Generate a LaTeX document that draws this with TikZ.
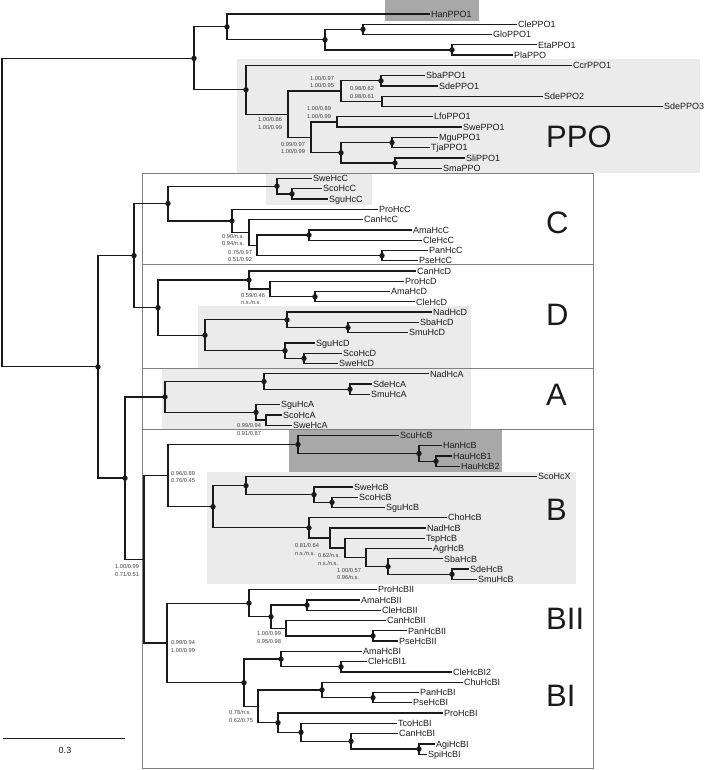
\documentclass[tikz,border=0pt]{standalone}
\usepackage{fontspec}
\setmainfont{Liberation Sans}
\usetikzlibrary{calc}
\definecolor{lgray}{HTML}{EBEBEB}
\definecolor{dgray}{HTML}{A8A8A8}
\definecolor{boxc}{HTML}{808080}
\definecolor{treec}{HTML}{1A1A1A}
\tikzset{
 br/.style={draw=treec, line width=1.3pt},
 leaflab/.style={anchor=west, inner sep=0pt, xshift=1pt, text height=6.4pt, text depth=0pt, font=\fontsize{9}{9}\selectfont, text=treec},
 suplab/.style={anchor=west, inner sep=0pt, align=left, font=\fontsize{5.7}{7.4}\selectfont, text=black!75},
 cladelab/.style={anchor=base west, inner sep=0pt, font=\fontsize{31}{31}\selectfont, text=treec},
 lshade/.style={fill=lgray, draw=none},
 dshade/.style={fill=dgray, draw=none},
 cbox/.style={draw=boxc, line width=0.8pt},
 tdot/.style={fill=treec, draw=none}
}
\newcommand\mkleaf[3]{\coordinate (#1) at (#3,{14+10.28*#2}); \node[leaflab] (t#1) at (#1) {#1};}
\newcommand\mknode[4]{\path ($(#3)!0.5!(#4)$) coordinate (m#1); \coordinate (#1) at (#2,0 |- m#1); \draw[br] (#3) -| (#1) |- (#4);}
\newcommand\mkdot[1]{\fill[tdot] (#1) circle (2.7pt);}
\begin{document}
\begin{tikzpicture}[x=1pt,y=-1pt]
\useasboundingbox (0,0) rectangle (709,770);
% shaded regions
\fill[dshade] (385,0) rectangle (479,21.5);
\fill[lshade] (237,59) rectangle (700,173);
\fill[lshade] (266,173) rectangle (372,205);
\fill[lshade] (198,306) rectangle (471,368);
\fill[lshade] (162,368) rectangle (471,429);
\fill[dshade] (289,429) rectangle (502,472);
\fill[lshade] (207,472) rectangle (576,584);
% clade boxes
\draw[cbox] (142,173) rectangle (593,264);
\draw[cbox] (142,264) rectangle (593,368);
\draw[cbox] (142,368) rectangle (593,429);
\draw[cbox] (142,429) rectangle (593,768);
% leaves
\mkleaf{HanPPO1}{0}{430}
\mkleaf{ClePPO1}{1}{517}
\mkleaf{GloPPO1}{2}{492}
\mkleaf{EtaPPO1}{3}{537}
\mkleaf{PlaPPO}{4}{513}
\mkleaf{CcrPPO1}{5}{572}
\mkleaf{SbaPPO1}{6}{425}
\mkleaf{SdePPO1}{7}{438}
\mkleaf{SdePPO2}{8}{543}
\mkleaf{SdePPO3}{9}{663}
\mkleaf{LfoPPO1}{10}{433}
\mkleaf{SwePPO1}{11}{462}
\mkleaf{MguPPO1}{12}{438}
\mkleaf{TjaPPO1}{13}{430}
\mkleaf{SliPPO1}{14}{465}
\mkleaf{SmaPPO}{15}{442}
\mkleaf{SweHcC}{16}{312}
\mkleaf{ScoHcC}{17}{322}
\mkleaf{SguHcC}{18}{328}
\mkleaf{ProHcC}{19}{378}
\mkleaf{CanHcC}{20}{363}
\mkleaf{AmaHcC}{21}{412}
\mkleaf{CleHcC}{22}{422}
\mkleaf{PanHcC}{23}{428}
\mkleaf{PseHcC}{24}{418}
\mkleaf{CanHcD}{25}{416}
\mkleaf{ProHcD}{26}{404}
\mkleaf{AmaHcD}{27}{390}
\mkleaf{CleHcD}{28}{415}
\mkleaf{NadHcD}{29}{432}
\mkleaf{SbaHcD}{30}{419}
\mkleaf{SmuHcD}{31}{408}
\mkleaf{SguHcD}{32}{315}
\mkleaf{ScoHcD}{33}{342}
\mkleaf{SweHcD}{34}{338}
\mkleaf{NadHcA}{35}{429}
\mkleaf{SdeHcA}{36}{372}
\mkleaf{SmuHcA}{37}{370}
\mkleaf{SguHcA}{38}{280}
\mkleaf{ScoHcA}{39}{282}
\mkleaf{SweHcA}{40}{292}
\mkleaf{ScuHcB}{41}{399}
\mkleaf{HanHcB}{42}{442}
\mkleaf{HauHcB1}{43}{452}
\mkleaf{HauHcB2}{44}{460}
\mkleaf{ScoHcX}{45}{537}
\mkleaf{SweHcB}{46}{353}
\mkleaf{ScoHcB}{47}{358}
\mkleaf{SguHcB}{48}{385}
\mkleaf{ChoHcB}{49}{447}
\mkleaf{NadHcB}{50}{426}
\mkleaf{TspHcB}{51}{425}
\mkleaf{AgrHcB}{52}{432}
\mkleaf{SbaHcB}{53}{443}
\mkleaf{SdeHcB}{54}{469}
\mkleaf{SmuHcB}{55}{477}
\mkleaf{ProHcBII}{56}{377}
\mkleaf{AmaHcBII}{57}{360}
\mkleaf{CleHcBII}{58}{381}
\mkleaf{CanHcBII}{59}{386}
\mkleaf{PanHcBII}{60}{407}
\mkleaf{PseHcBII}{61}{398}
\mkleaf{AmaHcBI}{62}{362}
\mkleaf{CleHcBI1}{63}{367}
\mkleaf{CleHcBI2}{64}{452}
\mkleaf{ChuHcBI}{65}{463}
\mkleaf{PanHcBI}{66}{419}
\mkleaf{PseHcBI}{67}{412}
\mkleaf{ProHcBI}{68}{443}
\mkleaf{TcoHcBI}{69}{397}
\mkleaf{CanHcBI}{70}{398}
\mkleaf{AgiHcBI}{71}{435}
\mkleaf{SpiHcBI}{72}{427}
% PPO part
\mknode{n3}{363}{ClePPO1}{GloPPO1}
\mknode{n4}{452}{EtaPPO1}{PlaPPO}
\mknode{n5}{325}{n3}{n4}
\mknode{n2}{227}{HanPPO1}{n5}
\mknode{nd}{381}{SbaPPO1}{SdePPO1}
\mknode{ne}{382}{SdePPO2}{SdePPO3}
\mknode{nb}{341}{nd}{ne}
\mknode{nf}{337}{LfoPPO1}{SwePPO1}
\mknode{nh}{392}{MguPPO1}{TjaPPO1}
\mknode{ni}{395}{SliPPO1}{SmaPPO}
\mknode{ng}{341}{nh}{ni}
\mknode{nc}{311}{nf}{ng}
\mknode{na}{288}{nb}{nc}
\mknode{np}{246}{CcrPPO1}{na}
\mknode{n1}{194}{n2}{np}
% C
\mknode{c5}{292}{ScoHcC}{SguHcC}
\mknode{c4}{277}{SweHcC}{c5}
\mknode{c9}{309}{AmaHcC}{CleHcC}
\mknode{c10}{382}{PanHcC}{PseHcC}
\mknode{c8}{257}{c9}{c10}
\mknode{c7}{249}{CanHcC}{c8}
\mknode{c6}{232}{ProHcC}{c7}
\mknode{cC}{168}{c4}{c6}
% D
\mknode{d4}{315}{AmaHcD}{CleHcD}
\mknode{d3}{270}{ProHcD}{d4}
\mknode{d2}{249}{CanHcD}{d3}
\mknode{d7}{348}{SbaHcD}{SmuHcD}
\mknode{d6}{287}{NadHcD}{d7}
\mknode{d9}{304}{ScoHcD}{SweHcD}
\mknode{d8}{285}{SguHcD}{d9}
\mknode{d5}{205}{d6}{d8}
\mknode{dD}{158}{d2}{d5}
\mknode{r3}{134}{cC}{dD}
% A
\mknode{a3}{350}{SdeHcA}{SmuHcA}
\mknode{a2}{264}{NadHcA}{a3}
\mknode{a5}{266}{ScoHcA}{SweHcA}
\mknode{a4}{256}{SguHcA}{a5}
\mknode{aA}{165}{a2}{a4}
% B
\mknode{b4}{436}{HauHcB1}{HauHcB2}
\mknode{b3}{419}{HanHcB}{b4}
\mknode{b2}{298}{ScuHcB}{b3}
\mknode{b8}{332}{ScoHcB}{SguHcB}
\mknode{b7}{314}{SweHcB}{b8}
\mknode{b6}{246}{ScoHcX}{b7}
\mknode{b13}{452}{SdeHcB}{SmuHcB}
\mknode{b12}{388}{SbaHcB}{b13}
\mknode{b11}{366}{AgrHcB}{b12}
\mknode{b10}{345}{TspHcB}{b11}
\mknode{b9x}{330}{NadHcB}{b10}
\mknode{b9}{309}{ChoHcB}{b9x}
\mknode{b5}{213}{b6}{b9}
\mknode{b1}{168}{b2}{b5}
% BII
\mknode{e4}{307}{AmaHcBII}{CleHcBII}
\mknode{e6}{373}{PanHcBII}{PseHcBII}
\mknode{e5}{286}{CanHcBII}{e6}
\mknode{e3}{271}{e4}{e5}
\mknode{e2}{249}{ProHcBII}{e3}
% BI
\mknode{f3}{341}{CleHcBI1}{CleHcBI2}
\mknode{f2}{281}{AmaHcBI}{f3}
\mknode{f6}{373}{PanHcBI}{PseHcBI}
\mknode{f5}{322}{ChuHcBI}{f6}
\mknode{f10}{419}{AgiHcBI}{SpiHcBI}
\mknode{f9}{351}{CanHcBI}{f10}
\mknode{f8}{301}{TcoHcBI}{f9}
\mknode{f7}{278}{ProHcBI}{f8}
\mknode{f4}{258}{f5}{f7}
\mknode{f1}{244}{f2}{f4}
\mknode{e1}{167}{e2}{f1}
\mknode{bB}{144}{b1}{e1}
\mknode{r4}{125}{aA}{bB}
\mknode{r2}{98}{r3}{r4}
\mknode{root}{2}{n1}{r2}
% dots
\foreach \d in {n3,n4,n5,n2,nd,nh,ni,ng,np,n1,
  c5,c4,c9,c10,c6,cC,
  d4,d2,d7,d6,d9,d8,d5,dD,r3,
  a3,a2,a4,aA,
  b4,b3,b2,b8,b7,b6,b13,b12,b9,b5,
  e4,e6,e3,e2,f3,f2,f6,f5,f10,f9,f8,f7,f1,r4,r2}{\mkdot{\d}}
% support values
\node[suplab] (s1) at (310,82) {1.00/0.97\\1.00/0.95};
\node[suplab] (s2) at (350,92.5) {0.98/0.62\\0.98/0.61};
\node[suplab] (s3) at (307,112.5) {1.00/0.89\\1.00/0.99};
\node[suplab] (s4) at (258,123.3) {1.00/0.86\\1.00/0.99};
\node[suplab] (s5) at (281,147.7) {0.99/0.97\\1.00/0.99};
\node[suplab] (s6) at (222,240) {0.90/n.s.\\0.94/n.s.};
\node[suplab] (s7) at (228,256) {0.75/0.97\\0.51/0.92};
\node[suplab] (s8) at (241,298.7) {0.59/0.46\\n.s./n.s.};
\node[suplab] (s9) at (237,429.5) {0.99/0.94\\0.91/0.87};
\node[suplab] (s10) at (171,477.2) {0.96/0.89\\0.76/0.45};
\node[suplab] (s11) at (295,549.5) {0.81/0.64\\n.s./n.s.};
\node[suplab] (s12) at (318,559.5) {0.62/n.s.\\n.s./n.s.};
\node[suplab] (s13) at (337,574) {1.00/0.57\\0.96/n.s.};
\node[suplab] (s14) at (115,570.3) {1.00/0.99\\0.71/0.51};
\node[suplab] (s15) at (257,637.5) {1.00/0.99\\0.95/0.98};
\node[suplab] (s16) at (171,646.3) {0.99/0.94\\1.00/0.99};
\node[suplab] (s17) at (229,716.3) {0.78/n.s.\\0.62/0.75};
% clade names
\node[cladelab] (kPPO) at (546,148) {PPO};
\node[cladelab] (kC) at (546,233) {C};
\node[cladelab] (kD) at (546,325) {D};
\node[cladelab] (kA) at (546,405) {A};
\node[cladelab] (kB) at (546,520) {B};
\node[cladelab] (kBII) at (546,629) {BII};
\node[cladelab] (kBI) at (546,706) {BI};
% scale bar
\coordinate (sb1) at (3,738);
\coordinate (sb2) at (125,738);
\draw[draw=treec, line width=1pt] (sb1) -- (sb2);
\node[inner sep=0pt, font=\fontsize{9}{9}\selectfont, text=treec] (sbl) at (65,750) {0.3};
\end{tikzpicture}
\end{document}
